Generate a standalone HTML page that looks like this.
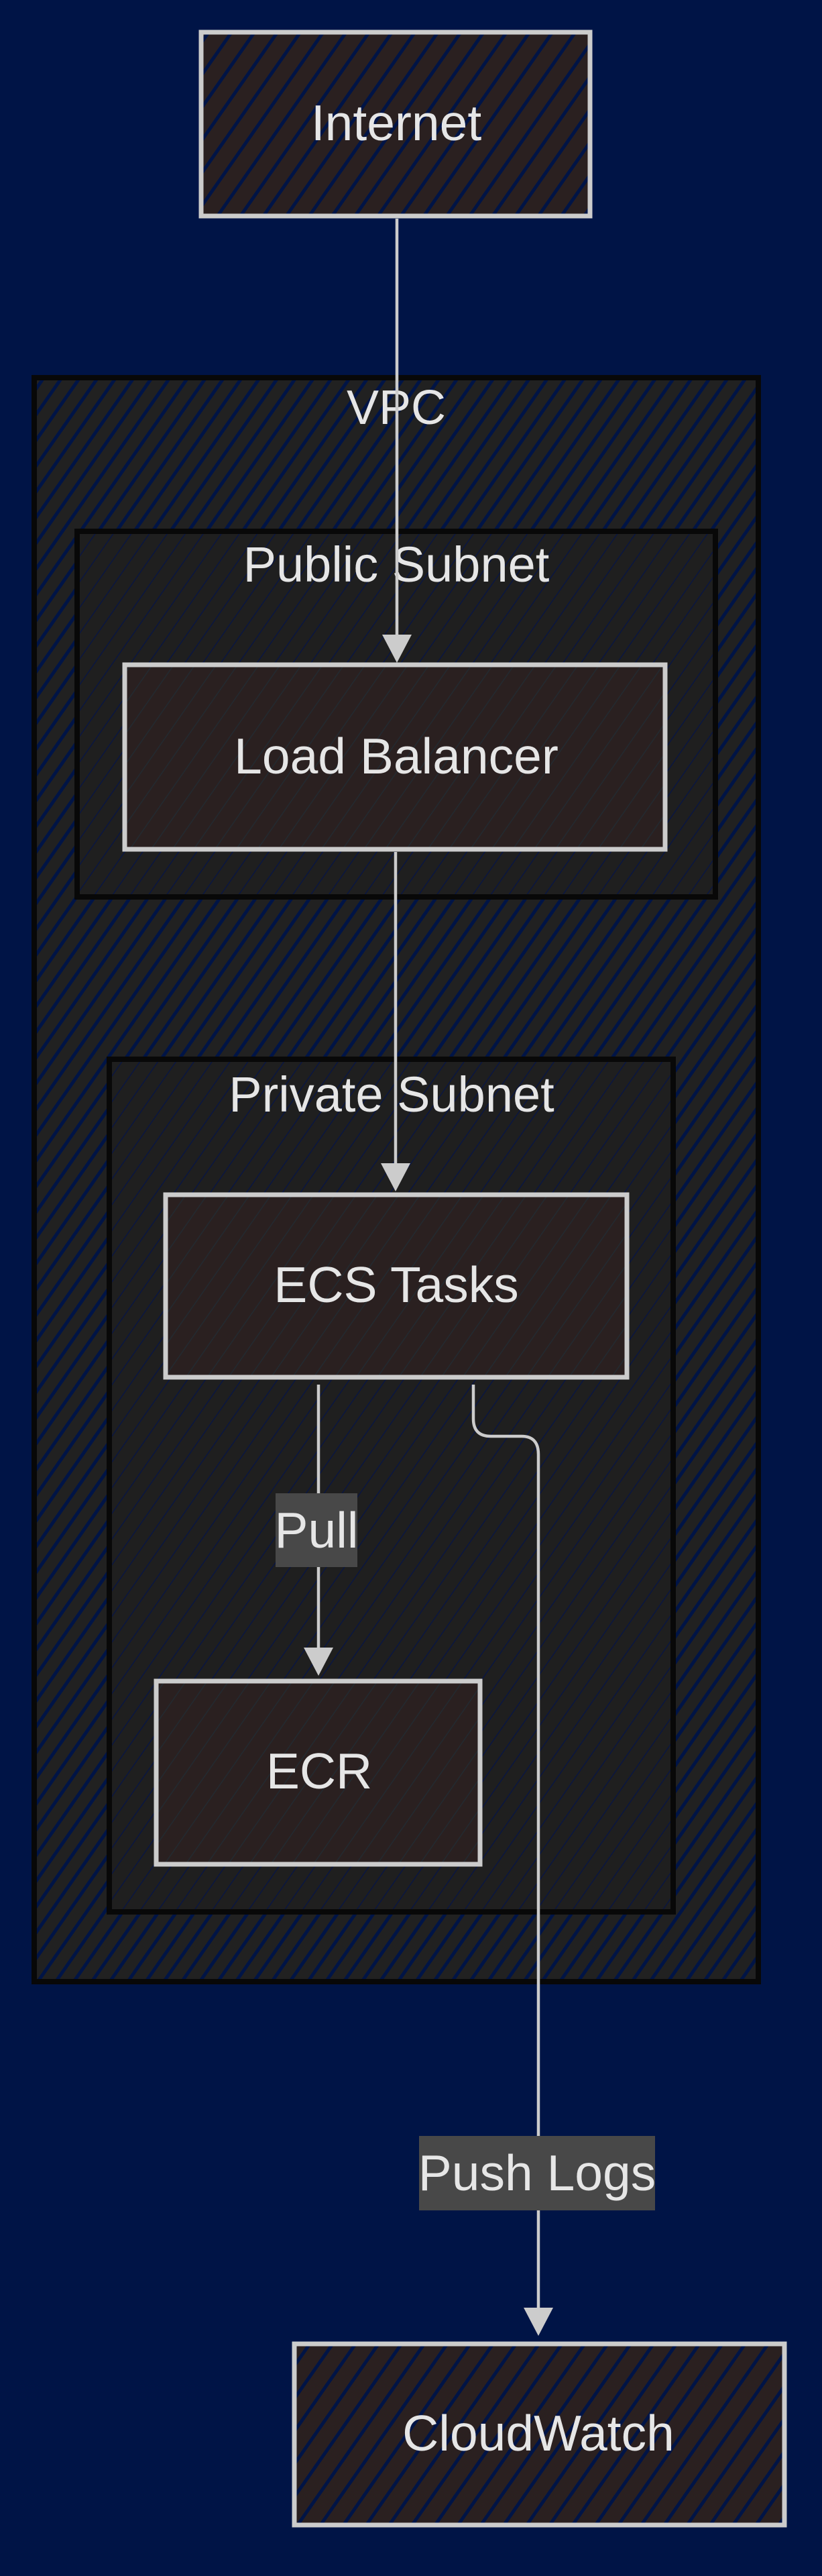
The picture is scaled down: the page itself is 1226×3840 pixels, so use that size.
<!DOCTYPE html>
<html><head><meta charset="utf-8"><style>
html,body{margin:0;padding:0;background:#001446;}
svg{display:block}
text{font-family:"Liberation Sans",sans-serif;fill:#e6e6e6;}
</style></head><body>
<svg width="1226" height="3840" viewBox="0 0 1226 3840" xmlns="http://www.w3.org/2000/svg">
<defs>
<pattern id="hn" width="28" height="28" patternUnits="userSpaceOnUse" patternTransform="rotate(35)">
<rect width="28" height="28" fill="#2a2020"/><rect x="0" y="0" width="5" height="28" fill="#001446"/>
</pattern>
<pattern id="hv" width="22" height="22" patternUnits="userSpaceOnUse" patternTransform="rotate(35)">
<rect width="22" height="22" fill="#212121"/><rect x="0" y="0" width="5" height="22" fill="#001446"/>
</pattern>
<pattern id="hs" width="22" height="22" patternUnits="userSpaceOnUse" patternTransform="rotate(35)">
<rect width="22" height="22" fill="#1f1f1f"/><rect x="0" y="0" width="1.5" height="22" fill="#0a1640"/>
</pattern>
<pattern id="hn2" width="26" height="26" patternUnits="userSpaceOnUse" patternTransform="rotate(35)">
<rect width="26" height="26" fill="#2a2020"/><rect x="0" y="0" width="1.5" height="26" fill="#232a30"/>
</pattern>
</defs>
<rect width="1226" height="3840" fill="#001446"/>

<rect x="51" y="563" width="1080" height="2391" fill="url(#hv)" stroke="#080808" stroke-width="8"/>
<text x="591" y="632" font-size="72" text-anchor="middle">VPC</text>

<rect x="115" y="792" width="952" height="545" fill="url(#hs)" stroke="#080808" stroke-width="8"/>
<text x="591" y="867" font-size="74" text-anchor="middle">Public Subnet</text>

<rect x="163" y="1579" width="841" height="1271" fill="url(#hs)" stroke="#080808" stroke-width="8"/>
<text x="584" y="1657" font-size="74" text-anchor="middle">Private Subnet</text>

<rect x="300" y="48" width="580" height="274" fill="url(#hn)" stroke="#cccccc" stroke-width="7"/>
<text x="591" y="209" font-size="75" text-anchor="middle">Internet</text>

<rect x="186" y="991" width="806" height="275" fill="url(#hn2)" stroke="#cccccc" stroke-width="7"/>
<text x="591" y="1153" font-size="75" text-anchor="middle">Load Balancer</text>

<rect x="247" y="1781" width="688" height="272" fill="url(#hn2)" stroke="#cccccc" stroke-width="7"/>
<text x="591" y="1941" font-size="75" text-anchor="middle">ECS Tasks</text>

<rect x="233" y="2506" width="483" height="273" fill="url(#hn2)" stroke="#cccccc" stroke-width="7"/>
<text x="476" y="2666" font-size="75" text-anchor="middle">ECR</text>

<rect x="439" y="3494" width="731" height="270" fill="url(#hn)" stroke="#cccccc" stroke-width="7"/>
<text x="803" y="3653" font-size="75" text-anchor="middle">CloudWatch</text>

<g stroke="#cccccc" stroke-width="4.5" fill="none">
<path d="M592 326 V948"/>
<path d="M590 1270 V1736"/>
<path d="M475 2064 V2458"/>
<path d="M706 2064 V2115 Q706 2141 732 2141 H778 Q803 2141 803 2168 V3442"/>
</g>
<g fill="#cccccc">
<polygon points="570,946 614,946 592,988"/>
<polygon points="568,1734 612,1734 590,1776"/>
<polygon points="453,2456 497,2456 475,2498"/>
<polygon points="781,3440 825,3440 803,3482"/>
</g>

<rect x="411" y="2226" width="122" height="110" fill="#484848"/>
<text x="472" y="2307" font-size="75" text-anchor="middle">Pull</text>
<rect x="625" y="3184" width="352" height="111" fill="#484848"/>
<text x="801" y="3265" font-size="75" text-anchor="middle">Push Logs</text>
</svg>
</body></html>
